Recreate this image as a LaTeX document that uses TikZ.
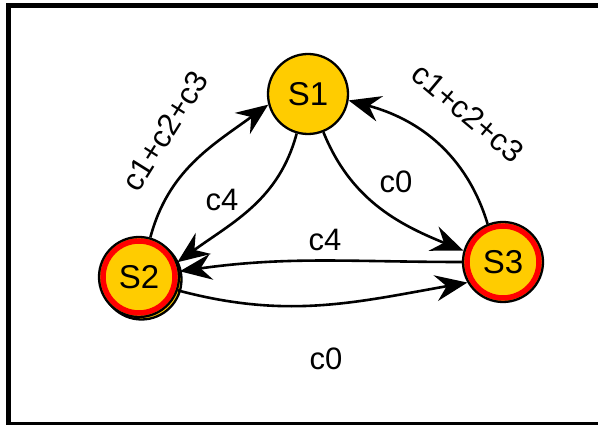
\documentclass[tikz,border=0pt]{standalone}
\usepackage{fontspec}
\setmainfont{Liberation Sans}
\usetikzlibrary{arrows.meta}
\definecolor{stateyellow}{RGB}{255,204,0}
\begin{document}
\begin{tikzpicture}[x=1pt,y=1pt,
  state/.style={circle, inner sep=0pt, minimum size=80pt, fill=stateyellow, draw=black, line width=2.3pt, font=\fontsize{33}{33}\selectfont},
  redring/.style={path picture={\draw[red, line width=5.5pt] (path picture bounding box.center) circle (36pt);}},
  conn/.style={draw=black, line width=2.6pt, -{Stealth[length=32pt,width=26pt,inset=11pt]}},
  lbl/.style={font=\fontsize{31}{31}\selectfont, inner sep=0pt}]
\useasboundingbox (0,0) rectangle (598,425);
\clip (0,0) rectangle (598,425);
\draw[line width=5pt] (8,0.5) rectangle (610,419);
% back circle of S2
\draw[fill=stateyellow, line width=2.3pt] (141.5,145.5) circle (40pt);
\node[state] (S1) at (308,331) {S1};
\node[state, redring] (S2) at (139,148) {S2};
\node[state, redring] (S3) at (503,163) {S3};
\draw[conn] (S2.74) to[out=75,in=216] (S1.195);
\draw[conn] (S1.254) to[out=255,in=36] (S2.21);
\draw[conn] (S1.292) to[out=292,in=158] (S3.164);
\draw[conn] (S3.112) to[out=107,in=345] (S1.351);
\draw[conn] (S3.180) to[out=180,in=8] (S2.8);
\draw[conn] (S2.-19) to[out=-15,in=190] (S3.210);
\node[lbl, rotate=58] (l1) at (165,294) {c1+c2+c3};
\node[lbl, rotate=-40] (l2) at (468,312) {c1+c2+c3};
\node[lbl] (l3) at (222,225) {c4};
\node[lbl] (l4) at (396,243) {c0};
\node[lbl] (l5) at (325,185) {c4};
\node[lbl] (l6) at (326,66) {c0};
\end{tikzpicture}
\end{document}
